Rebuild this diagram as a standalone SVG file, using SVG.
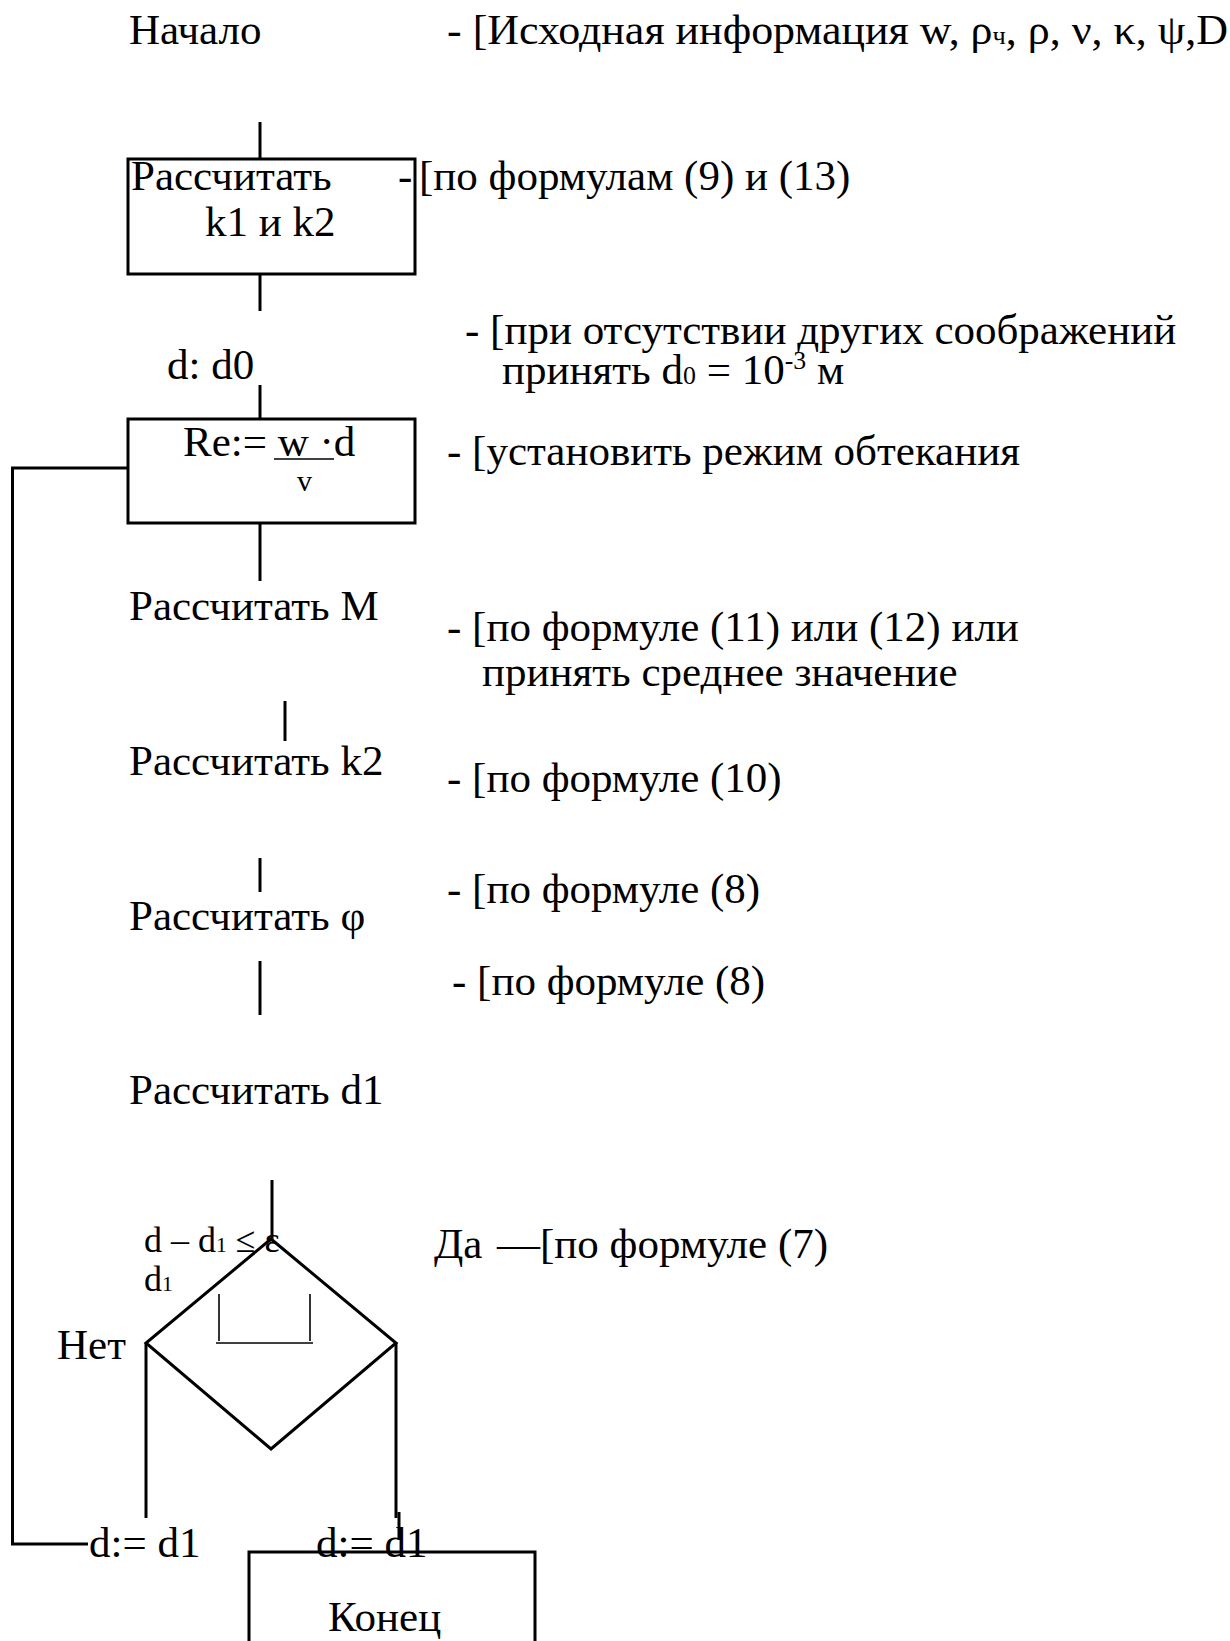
<svg xmlns="http://www.w3.org/2000/svg" width="1230" height="1641" viewBox="0 0 1230 1641">
<style>
.t{font-family:"Liberation Serif","Times New Roman",serif;font-size:43px;fill:#000}
.m{font-family:"Liberation Serif","Times New Roman",serif;font-size:36px;fill:#000}
.v{font-family:"Liberation Serif","Times New Roman",serif;font-size:30px;fill:#000}
.sm{font-size:60%}
.ln{stroke:#000;stroke-width:3;fill:none}
.thin{stroke:#000;stroke-width:1.6;fill:none}
.box{stroke:#000;stroke-width:3;fill:#fff}
</style>
<rect width="1230" height="1641" fill="#fff"/>
<g id="connectors">
<line class="ln" x1="260" y1="122" x2="260" y2="159"/>
<line class="ln" x1="260" y1="274" x2="260" y2="311"/>
<line class="ln" x1="260" y1="385" x2="260" y2="419"/>
<line class="ln" x1="260" y1="523" x2="260" y2="581"/>
<line class="ln" x1="285" y1="701" x2="285" y2="741"/>
<line class="ln" x1="260" y1="858" x2="260" y2="892"/>
<line class="ln" x1="260" y1="961" x2="260" y2="1015"/>
<line class="ln" x1="272" y1="1180" x2="272" y2="1240"/>
<line class="ln" x1="146" y1="1343" x2="146" y2="1518"/>
<line class="ln" x1="396" y1="1343" x2="396" y2="1518"/>
<line class="ln" x1="399" y1="1512" x2="399" y2="1540"/>
<polyline class="ln" points="88,1544 12.5,1544 12.5,468 129,468"/>
</g>
<g id="start"><text class="t" x="129" y="44">Начало</text></g>
<g id="note-start"><text class="t" x="447" y="44" textLength="781" lengthAdjust="spacingAndGlyphs">- [Исходная информация w, ρ<tspan class="sm">ч</tspan>, ρ, ν, κ, ψ,D</text></g>
<g id="calc-k1k2">
<rect class="box" x="128" y="159" width="287" height="115"/>
<text class="t" x="131" y="190">Рассчитать</text>
<text class="t" x="205" y="236">k1 и k2</text>
</g>
<g id="note-k1k2"><text class="t" x="398" y="190">-</text><text class="t" x="419" y="190">[по формулам (9) и (13)</text></g>
<g id="d0"><text class="t" x="167" y="379">d: d0</text></g>
<g id="note-d0">
<text class="t" x="465" y="344">- [при отсутствии других соображений</text>
<text class="t" x="502" y="384">принять d<tspan class="sm">0</tspan> = 10<tspan class="sm" dy="-15">-3</tspan><tspan dy="15"> м</tspan></text>
</g>
<g id="re">
<rect class="box" x="128" y="419" width="287" height="104"/>
<text class="t" x="183" y="456">Re:= w ·d</text>
<line class="thin" x1="274" y1="459" x2="334" y2="459"/>
<text class="v" x="297" y="491">v</text>
</g>
<g id="note-re"><text class="t" x="447" y="465">- [установить режим обтекания</text></g>
<g id="calc-m"><text class="t" x="129" y="620">Рассчитать М</text></g>
<g id="note-m">
<text class="t" x="447" y="641">- [по формуле (11) или (12) или</text>
<text class="t" x="482" y="686">принять среднее значение</text>
</g>
<g id="calc-k2"><text class="t" x="129" y="775">Рассчитать k2</text></g>
<g id="note-k2"><text class="t" x="447" y="792">- [по формуле (10)</text></g>
<g id="note-phi1"><text class="t" x="447" y="903">- [по формуле (8)</text></g>
<g id="calc-phi"><text class="t" x="129" y="930">Рассчитать φ</text></g>
<g id="note-phi2"><text class="t" x="452" y="995">- [по формуле (8)</text></g>
<g id="calc-d1"><text class="t" x="129" y="1104">Рассчитать d1</text></g>
<g id="decision">
<text class="m" x="144" y="1252">d – d<tspan class="sm">1</tspan> ≤ ε</text>
<text class="m" x="144" y="1291">d<tspan class="sm">1</tspan></text>
<polygon class="ln" points="271,1239 396,1343 271,1449 146,1343"/>
<polyline class="thin" points="219,1294 219,1341"/>
<polyline class="thin" points="310,1294 310,1341"/>
<line class="thin" x1="216" y1="1343" x2="313" y2="1343"/>
</g>
<g id="label-no"><text class="t" x="57" y="1359">Нет</text></g>
<g id="label-yes"><text class="t" x="434" y="1258">Да</text><text class="t" x="497" y="1258">—[по формуле (7)</text></g>
<g id="assign-left"><text class="t" x="89" y="1557">d:= d1</text></g>
<g id="end">
<rect class="box" x="249" y="1552" width="286" height="110"/>
<text class="t" x="328" y="1631">Конец</text>
</g>
<g id="assign-right"><text class="t" x="316" y="1557">d:= d1</text></g>
</svg>
